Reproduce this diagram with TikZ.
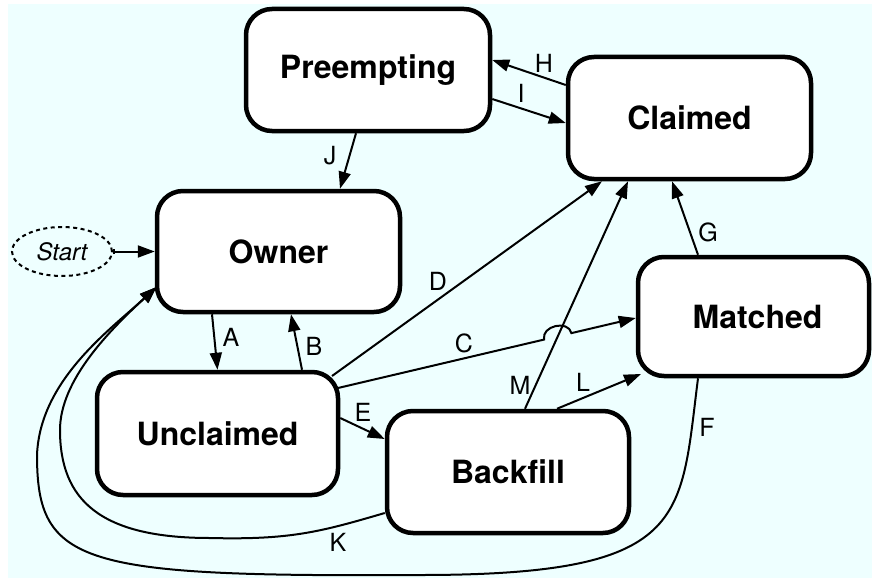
\documentclass[tikz,border=0pt]{standalone}
\usepackage{fontspec}
\setmainfont{TeX Gyre Heros}
\usetikzlibrary{arrows.meta,calc,intersections,shapes.geometric}
\definecolor{bgcyan}{RGB}{238,255,255}
\begin{document}
\begin{tikzpicture}[x=1pt,y=1pt,
  stbox/.style={draw, line width=4.5pt, fill=white, rounded corners=26pt,
    minimum width=242pt, minimum height=122pt, inner sep=0pt,
    font=\fontsize{32}{37}\selectfont\bfseries},
  trans/.style={line width=2pt, -{Triangle[length=17pt,width=12pt]}},
  lbl/.style={font=\fontsize{25}{29}\selectfont, inner sep=0pt},
]
\useasboundingbox (0,0) rectangle (872,-578);
\fill[bgcyan] (8,-4) rectangle (872,-578);

% states
\node[stbox, minimum width=244pt] (pre) at (368,-70) {Preempting};
\node[stbox, minimum width=243pt] (cla) at (689.5,-118) {Claimed};
\node[stbox, minimum width=243pt, minimum height=121pt] (own) at (278.5,-251.5) {Owner};
\node[stbox, minimum width=241pt, minimum height=123pt] (unc) at (217.5,-433.5) {Unclaimed};
\node[stbox] (bac) at (508,-472) {Backfill};
\node[stbox, minimum width=231pt, minimum height=119pt] (mat) at (753.5,-316.5) {\hspace*{8pt}Matched};
\node[draw, ellipse, line width=2pt, dash pattern=on 4pt off 3.5pt,
  minimum width=100pt, minimum height=49pt, inner sep=0pt,
  font=\fontsize{24}{28}\selectfont\itshape] (start) at (62,-251.5) {Start};

% initial transition
\draw[line width=2pt, {Bar[width=5pt]}-{Triangle[length=17pt,width=12pt]}] (start.east) -- (own.west);

% straight transitions
\draw[trans] ([xshift=-66.5pt]own.south) -- (unc.north);
\draw[trans] ([xshift=84.5pt]unc.north) -- ([xshift=12.5pt]own.south);
\draw[trans] ([xshift=-12pt]pre.south) -- ([xshift=61.5pt]own.north);
\draw[trans] ([yshift=33pt]cla.west) -- ([yshift=10pt]pre.east);
\draw[trans] ([yshift=-29pt]pre.east) -- ([yshift=-5pt]cla.west);
\draw[trans] ([shift={(114.5,57.5)}]unc.center) -- ([xshift=-87.5pt]cla.south);
\draw[trans, name path=mline] ([xshift=17pt]bac.north) -- ([xshift=-61.5pt]cla.south);
\draw[trans] ([xshift=49pt]bac.north) -- ([shift={(-112.5,-57.5)}]mat.center);
\draw[trans] ([yshift=15.5pt]unc.east) -- ([yshift=33pt]bac.west);
\draw[trans] ([xshift=-55.5pt]mat.north) -- ([xshift=-17.5pt]cla.south);

% C hops over M
\coordinate (cfrom) at ([shift={(120.5,45.5)}]unc.center);
\coordinate (cto) at ([yshift=-1.5pt]mat.west);
\path[name path=cline] (cfrom) -- (cto);
\path[name intersections={of=mline and cline, by=cross}];
\coordinate (hopa) at ($(cross)!14pt!(cfrom)$);
\coordinate (hopb) at ($(cross)!14pt!(cto)$);
\draw[trans] (cfrom) -- (hopa)
  .. controls ($(hopa)!14pt!90:(cross)$) and ($(hopb)!14pt!-90:(cross)$) .. (hopb)
  -- (cto);

% long returns to Owner
\coordinate (ownin) at ([shift={(-122,-35.5)}]own.center);
\draw[trans] ([xshift=-55.5pt]mat.south)
  .. controls (680,-520) and (690,-575) .. (420,-575)
  .. controls (80,-577) and (37,-565) .. (37,-455)
  .. controls (40,-380) and (110,-330) .. (ownin);
\draw[trans] ([yshift=-41pt]bac.west)
  .. controls (320,-532) and (290,-540) .. (210,-538)
  .. controls (100,-538) and (60,-500) .. (60,-430)
  .. controls (60,-380) and (110,-330) .. (ownin);

% transition labels
\node[lbl] (la) at (231,-337) {A};
\node[lbl] (lb) at (314,-346) {B};
\node[lbl] (lc) at (464,-343) {C};
\node[lbl] (ld) at (438,-281) {D};
\node[lbl] (le) at (363,-412) {E};
\node[lbl] (lf) at (707,-427) {F};
\node[lbl] (lg) at (708,-232) {G};
\node[lbl] (lh) at (544,-63) {H};
\node[lbl] (li) at (521,-93) {I};
\node[lbl] (lj) at (330,-156) {J};
\node[lbl] (lk) at (338,-542) {K};
\node[lbl] (ll) at (583,-382) {L};
\node[lbl] (lm) at (520,-385) {M};
\end{tikzpicture}
\end{document}
